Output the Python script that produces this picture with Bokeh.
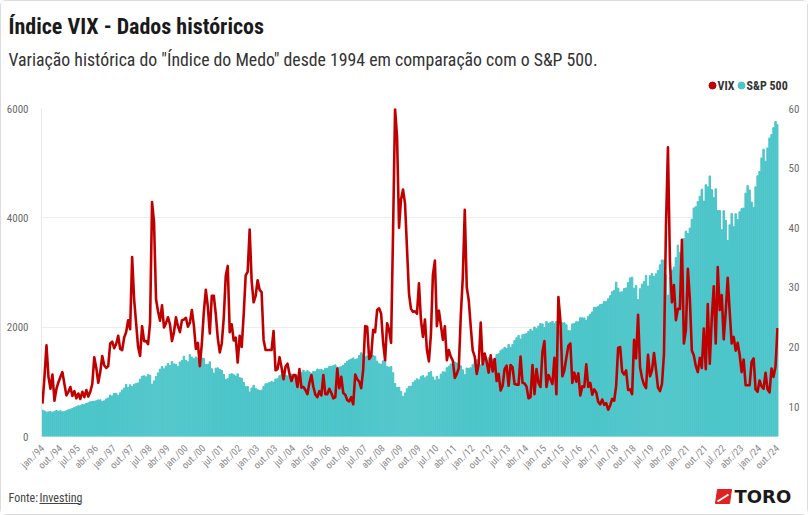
import math
from bokeh.plotting import figure
from bokeh.layouts import column
from bokeh.models import Range1d, LinearAxis, FixedTicker
from bokeh.core.properties import value
from bokeh.embed import file_html
from bokeh.resources import INLINE

# ---------------- data (monthly, jan/94 .. out/24) ----------------
sp500 = [
    # 1994
    481.6, 467.1, 445.8, 450.9, 456.5, 444.3, 458.3, 475.5, 462.7, 472.4, 453.7, 459.3,
    # 1995
    470.4, 487.4, 500.7, 514.7, 533.4, 544.8, 562.1, 561.9, 584.4, 581.5, 605.4, 615.9,
    # 1996
    636.0, 640.4, 645.5, 654.2, 669.1, 670.6, 640.0, 652.0, 687.3, 705.3, 757.0, 740.7,
    # 1997
    786.2, 790.8, 757.1, 801.3, 848.3, 885.1, 954.3, 899.5, 947.3, 914.6, 955.4, 970.4,
    # 1998
    980.3, 1049.3, 1101.8, 1111.8, 1090.8, 1133.8, 1120.7, 957.3, 1017.0, 1098.7, 1163.6, 1229.2,
    # 1999
    1279.6, 1238.3, 1286.4, 1335.2, 1301.8, 1372.7, 1328.7, 1320.4, 1282.7, 1362.9, 1388.9, 1469.3,
    # 2000
    1394.5, 1366.4, 1498.6, 1452.4, 1420.6, 1454.6, 1430.8, 1517.7, 1436.5, 1429.4, 1315.0, 1320.3,
    # 2001
    1366.0, 1239.9, 1160.3, 1249.5, 1255.8, 1224.4, 1211.2, 1133.6, 1040.9, 1059.8, 1139.5, 1148.1,
    # 2002
    1130.2, 1106.7, 1147.4, 1076.9, 1067.1, 989.8, 911.6, 916.1, 815.3, 885.8, 936.3, 879.8,
    # 2003
    855.7, 841.2, 848.2, 916.9, 963.6, 974.5, 990.3, 1008.0, 996.0, 1050.7, 1058.2, 1111.9,
    # 2004
    1131.1, 1144.9, 1126.2, 1107.3, 1120.7, 1140.8, 1101.7, 1104.2, 1114.6, 1130.2, 1173.8, 1211.9,
    # 2005
    1181.3, 1203.6, 1180.6, 1156.9, 1191.5, 1191.3, 1234.2, 1220.3, 1228.8, 1207.0, 1249.5, 1248.3,
    # 2006
    1280.1, 1280.7, 1294.8, 1310.6, 1270.1, 1270.2, 1276.7, 1303.8, 1335.9, 1377.9, 1400.6, 1418.3,
    # 2007
    1438.2, 1406.8, 1420.9, 1482.4, 1530.6, 1503.4, 1455.3, 1474.0, 1526.8, 1549.4, 1481.1, 1468.4,
    # 2008
    1378.6, 1330.6, 1322.7, 1385.6, 1400.4, 1280.0, 1267.4, 1282.8, 1166.4, 968.8, 896.2, 903.3,
    # 2009
    825.9, 735.1, 797.9, 872.8, 919.1, 919.3, 987.5, 1020.6, 1057.1, 1036.2, 1095.6, 1115.1,
    # 2010
    1073.9, 1104.5, 1169.4, 1186.7, 1089.4, 1030.7, 1101.6, 1049.3, 1141.2, 1183.3, 1180.6, 1257.6,
    # 2011
    1286.1, 1327.2, 1325.8, 1363.6, 1345.2, 1320.6, 1292.3, 1218.9, 1131.4, 1253.3, 1247.0, 1257.6,
    # 2012
    1312.4, 1365.7, 1408.5, 1397.9, 1310.3, 1362.2, 1379.3, 1406.6, 1440.7, 1412.2, 1416.2, 1426.2,
    # 2013
    1498.1, 1514.7, 1569.2, 1597.6, 1630.7, 1606.3, 1685.7, 1633.0, 1681.6, 1756.5, 1805.8, 1848.4,
    # 2014
    1782.6, 1859.5, 1872.3, 1884.0, 1923.6, 1960.2, 1930.7, 2003.4, 1972.3, 2018.1, 2067.6, 2058.9,
    # 2015
    1995.0, 2104.5, 2067.9, 2085.5, 2107.4, 2063.1, 2103.8, 1972.2, 1920.0, 2079.4, 2080.4, 2043.9,
    # 2016
    1940.2, 1932.2, 2059.7, 2065.3, 2097.0, 2098.9, 2173.6, 2171.0, 2168.3, 2126.2, 2198.8, 2238.8,
    # 2017
    2278.9, 2363.6, 2362.7, 2384.2, 2411.8, 2423.4, 2470.3, 2471.7, 2519.4, 2575.3, 2647.6, 2673.6,
    # 2018
    2823.8, 2713.8, 2640.9, 2648.1, 2705.3, 2718.4, 2816.3, 2901.5, 2914.0, 2711.7, 2760.2, 2506.9,
    # 2019
    2704.1, 2784.5, 2834.4, 2945.8, 2752.1, 2941.8, 2980.4, 2926.5, 2976.7, 3037.6, 3141.0, 3230.8,
    # 2020
    3225.5, 2954.2, 2584.6, 2912.4, 3044.3, 3100.3, 3271.1, 3500.3, 3363.0, 3270.0, 3621.6, 3756.1,
    # 2021
    3714.2, 3811.2, 3972.9, 4181.2, 4204.1, 4297.5, 4395.3, 4522.7, 4307.5, 4605.4, 4567.0, 4766.2,
    # 2022
    4515.6, 4373.9, 4530.4, 4131.9, 4132.2, 3785.4, 4130.3, 3955.0, 3585.6, 3872.0, 4080.1, 3839.5,
    # 2023
    4076.6, 3970.2, 4109.3, 4169.5, 4179.8, 4450.4, 4589.0, 4507.7, 4288.1, 4193.8, 4567.8, 4769.8,
    # 2024
    4845.7, 5096.3, 5254.4, 5035.7, 5277.5, 5460.5, 5522.3, 5648.4, 5762.5, 5705.5,
]

vix = [
    # 1994
    10.5, 15.0, 20.3, 15.0, 13.0, 15.4, 11.0, 13.0, 14.1, 15.0, 15.8, 13.8,
    # 1995
    11.9, 12.5, 13.3, 11.8, 12.6, 11.4, 12.2, 11.3, 12.5, 11.6, 12.8, 11.7,
    # 1996
    12.5, 13.8, 18.3, 16.5, 14.0, 15.8, 18.5, 16.9, 16.5, 16.8, 20.6, 20.9,
    # 1997
    19.8, 20.5, 21.9, 19.7, 19.5, 21.6, 22.5, 24.5, 23.0, 35.1, 28.0, 24.0,
    # 1998
    20.0, 18.5, 23.5, 21.0, 21.0, 20.5, 24.0, 44.3, 40.9, 28.0, 26.0, 24.4,
    # 1999
    27.0, 23.3, 24.0, 25.0, 23.8, 21.0, 22.5, 25.0, 23.5, 22.5, 24.5, 24.6,
    # 2000
    24.9, 23.4, 24.1, 26.2, 23.6, 19.7, 20.7, 16.8, 20.6, 25.9, 29.6, 26.8,
    # 2001
    22.3, 28.6, 28.6, 25.5, 21.5, 19.1, 20.6, 24.9, 31.9, 33.6, 22.5, 23.8,
    # 2002
    21.1, 21.6, 17.4, 21.9, 20.0, 25.4, 32.0, 32.6, 39.7, 31.1, 27.5, 28.6,
    # 2003
    31.2, 29.6, 29.2, 21.2, 19.5, 19.5, 19.5, 19.5, 22.7, 16.1, 16.3, 18.3,
    # 2004
    16.6, 14.6, 16.7, 17.2, 15.5, 14.3, 15.3, 15.3, 13.3, 16.3, 13.2, 13.3,
    # 2005
    12.8, 12.1, 14.0, 15.3, 13.3, 12.0, 11.6, 12.6, 11.9, 15.3, 12.1, 12.1,
    # 2006
    13.0, 12.3, 11.4, 11.6, 16.4, 13.1, 15.0, 12.3, 12.0, 11.1, 10.9, 11.6,
    # 2007
    10.4, 15.4, 14.6, 14.2, 13.1, 16.2, 23.5, 23.4, 18.0, 18.5, 22.9, 22.5,
    # 2008
    26.2, 26.5, 25.6, 20.8, 17.8, 24.0, 22.9, 20.7, 39.4, 59.9, 55.3, 40.0,
    # 2009
    44.8, 46.4, 44.1, 36.5, 28.9, 26.4, 25.9, 26.0, 25.6, 30.7, 24.5, 21.7,
    # 2010
    24.6, 19.5, 17.6, 22.1, 32.1, 34.5, 23.5, 26.1, 23.7, 21.2, 23.5, 17.8,
    # 2011
    19.5, 18.4, 17.7, 14.8, 15.5, 16.5, 25.3, 31.6, 43.0, 30.0, 27.8, 23.4,
    # 2012
    19.4, 18.4, 15.5, 17.2, 24.1, 17.1, 18.9, 17.5, 15.7, 18.6, 15.9, 18.0,
    # 2013
    14.3, 15.5, 12.7, 13.5, 16.3, 16.9, 13.5, 17.0, 16.6, 13.8, 13.7, 13.7,
    # 2014
    18.4, 14.0, 13.9, 13.4, 11.4, 11.6, 17.0, 12.1, 16.3, 14.0, 13.3, 19.2,
    # 2015
    21.0, 13.3, 15.3, 14.6, 13.8, 18.2, 12.1, 28.4, 24.5, 15.1, 16.1, 18.2,
    # 2016
    20.2, 20.6, 14.0, 15.7, 14.2, 15.6, 11.9, 13.4, 13.3, 17.1, 13.3, 14.0,
    # 2017
    12.0, 12.9, 12.4, 10.8, 10.4, 11.2, 10.3, 10.6, 9.5, 10.2, 11.3, 11.0,
    # 2018
    13.5, 19.9, 20.0, 15.9, 15.4, 16.1, 12.8, 12.9, 12.1, 21.2, 18.1, 25.4,
    # 2019
    16.6, 14.8, 13.7, 13.1, 18.7, 15.1, 16.1, 19.0, 16.2, 13.2, 12.6, 13.8,
    # 2020
    18.8, 40.1, 53.5, 34.2, 27.5, 30.4, 24.5, 26.4, 26.4, 38.0, 20.6, 22.8,
    # 2021
    33.1, 28.0, 19.4, 18.6, 16.8, 15.8, 18.2, 16.5, 23.1, 16.3, 27.2, 17.2,
    # 2022
    24.8, 30.2, 20.6, 33.4, 26.2, 28.7, 21.3, 25.9, 31.6, 25.9, 20.6, 21.7,
    # 2023
    19.4, 20.7, 18.7, 15.8, 17.9, 13.6, 13.6, 13.6, 17.5, 18.1, 12.9, 12.5,
    # 2024
    14.4, 13.4, 13.0, 15.7, 12.9, 12.4, 16.4, 15.0, 16.7, 23.2,
]

tick_labels = [
    "jan./94", "out./94", "jul./95", "abr./96", "jan./97", "out./97", "jul./98",
    "abr./99", "jan./00", "out./00", "jul./01", "abr./02", "jan./03", "out./03",
    "jul./04", "abr./05", "jan./06", "out./06", "jul./07", "abr./08", "jan./09",
    "out./09", "jul./10", "abr./11", "jan./12", "out./12", "jul./13", "abr./14",
    "jan./15", "out./15", "jul./16", "abr./17", "jan./18", "out./18", "jul./19",
    "abr./20", "jan./21", "out./21", "jul./22", "abr./23", "jan./24", "out./24",
]
tick_step = 9  # months between labels

left_ticks = [0, 2000, 4000, 6000]
right_ticks = [10, 20, 30, 40, 50, 60]

title_text = "Índice VIX - Dados históricos"
subtitle_text = "Variação histórica do \"Índice do Medo\" desde 1994 em comparação com o S&P 500."
legend_names = ["VIX", "S&P 500"]

# ---------------- styling ----------------
FONT = "Roboto Condensed, Liberation Sans Narrow, Roboto"
TEAL = "#4cc5c9"
RED = "#c00000"
W = 806  # + 1px border each side = 808


def blank(height):
    f = figure(width=W, height=height, output_backend="svg", toolbar_location=None,
               x_range=Range1d(0, W), y_range=Range1d(height, 0),
               x_axis_location=None, y_axis_location=None,
               min_border=0, min_border_left=0, min_border_right=0,
               min_border_top=0, min_border_bottom=0)
    f.frame_align = False
    f.grid.visible = False
    f.outline_line_color = None
    f.background_fill_color = "white"
    f.border_fill_color = "white"
    return f


def txt(f, x, y, text, size, color="#222222", bold=False, font=FONT, align="left"):
    f.text(x=[x], y=[y], text=[text], text_font=value(font), text_font_size=size,
           text_color=color, text_baseline="middle", text_align=align,
           text_font_style="bold" if bold else "normal")


# ---------------- header (page y 1..100) ----------------
head = blank(99)
txt(head, 7, 25, title_text, "22px", "#1a1a1a", bold=True)
txt(head, 7, 58, subtitle_text, "17.8px", "#333333")
head.scatter(x=[711], y=[84], size=7, color=RED)
txt(head, 716, 84, legend_names[0], "12px", "#333333", bold=True)
head.scatter(x=[740], y=[84], size=7, color=TEAL)
txt(head, 745, 84, legend_names[1], "12px", "#333333", bold=True)

# ---------------- main chart (page y 100..480) ----------------
idx = list(range(len(sp500)))

p = figure(width=W, height=380, output_backend="svg", toolbar_location=None,
           x_range=Range1d(-0.5, len(sp500) - 0.5), y_range=Range1d(0, 6000),
           min_border_left=40, min_border_right=29, min_border_top=8,
           min_border_bottom=44)
p.frame_align = False
p.outline_line_color = None
p.background_fill_color = "white"
p.border_fill_color = "white"
p.extra_y_ranges = {"vix": Range1d(5, 60)}

p.vbar(x=idx, top=sp500, width=0.72, color=TEAL)
p.line(x=idx, y=vix, y_range_name="vix", line_color=RED, line_width=2.6,
       line_join="round")

xa = p.xaxis[0]
xa.ticker = FixedTicker(ticks=[i * tick_step for i in range(len(tick_labels))])
xa.major_label_overrides = {i * tick_step: t for i, t in enumerate(tick_labels)}
xa.major_label_orientation = math.pi / 4
xa.axis_line_color = None
xa.major_tick_line_color = None
xa.minor_tick_line_color = None
xa.major_label_text_font = FONT
xa.major_label_text_font_size = "10px"
xa.major_label_text_color = "#8a8a8a"
xa.major_label_standoff = 4

ya = p.yaxis[0]
ya.ticker = FixedTicker(ticks=left_ticks)
ya.axis_line_color = "#e8e8e8"
ya.major_tick_line_color = None
ya.minor_tick_line_color = None
ya.major_label_text_font = FONT
ya.major_label_text_font_size = "11px"
ya.major_label_text_color = "#6b6b6b"
ya.major_label_standoff = 7

ra = LinearAxis(y_range_name="vix", ticker=FixedTicker(ticks=right_ticks))
ra.axis_line_color = None
ra.major_tick_line_color = None
ra.minor_tick_line_color = None
ra.major_label_text_font = FONT
ra.major_label_text_font_size = "11px"
ra.major_label_text_color = "#6b6b6b"
ra.major_label_standoff = 4
p.add_layout(ra, "right")

p.xgrid.grid_line_color = None
p.ygrid.ticker = FixedTicker(ticks=left_ticks)
p.ygrid.grid_line_color = "#ededed"

# ---------------- footer (page y 480..514) ----------------
foot = blank(34)
txt(foot, 7, 17, "Fonte: ", "12px", "#444444")
txt(foot, 38, 17, "Investing", "12px", "#444444")
foot.line(x=[38, 78], y=[23, 23], line_color="#444444", line_width=1)
foot.patch(x=[716, 730, 728, 714], y=[9, 9, 23, 23], color="#e1201f")
foot.line(x=[716, 727], y=[21, 14], line_color="white", line_width=2)
txt(foot, 733, 16, "TORO", "18px", "#1a1a1a", bold=True, font="DejaVu Sans")

layout = column(head, p, foot, spacing=0,
                styles={"border": "1px solid #dddddd", "border-radius": "6px"})
open("out.html", "w").write(file_html(layout, INLINE))
